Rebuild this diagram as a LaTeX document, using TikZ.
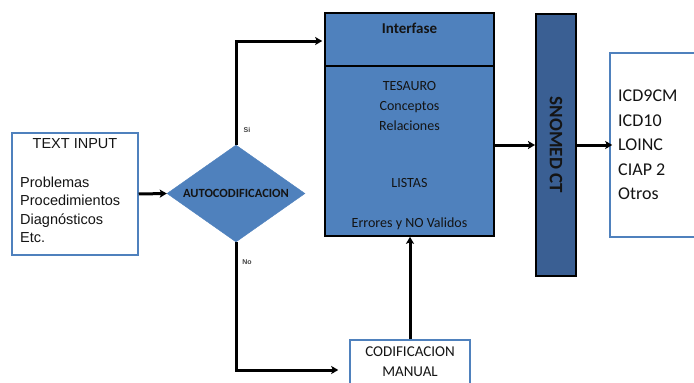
\documentclass[tikz,border=0pt]{standalone}
\usepackage{fontspec}
\setmainfont{Carlito}
\newfontfamily\arialf{Liberation Sans}
\usetikzlibrary{shapes.geometric,arrows.meta}
\definecolor{boxblue}{HTML}{4F81BD}
\definecolor{darkblue}{HTML}{3A5F93}
\definecolor{txtdark}{HTML}{141414}
\begin{document}
\begin{tikzpicture}[x=1pt,y=-1pt,
  conn/.style={line width=3pt,draw=black,-{Stealth[length=7pt,width=8pt,inset=1.5pt]}},
  plainbox/.style={draw=boxblue,line width=1.5pt,fill=white,inner sep=0pt},
  bluebox/.style={draw=black,line width=1.6pt,fill=boxblue,inner sep=0pt},
  lbl/.style={inner sep=0pt,text=txtdark},
  tiny/.style={inner sep=0pt,text=black!75,font=\arialf\fontsize{7}{8}\selectfont\bfseries}]
\useasboundingbox (0,0) rectangle (694,383);
\clip (0,0) rectangle (694,383);
% boxes
\node[plainbox,minimum width=126pt,minimum height=122pt] (inp) at (75,194) {};
\node[diamond,fill=boxblue,draw=boxblue,inner sep=0pt,minimum width=138pt,minimum height=97pt] (dia) at (236,193.5) {};
\node[bluebox,minimum width=169pt,minimum height=223pt] (big) at (409.5,124.5) {};
\node[bluebox,draw=black,line width=2pt,fill=darkblue,minimum width=40pt,minimum height=262pt] (sn) at (556,145) {};
\node[plainbox,minimum width=130pt,minimum height=184pt] (out) at (675,145) {};
\node[plainbox,minimum width=120pt,minimum height=60pt] (cod) at (410,370) {};
\coordinate (div) at (0,66);
\draw[line width=1.2pt,black] (big.west |- div) -- (big.east |- div);
% texts
\node[lbl,font=\arialf\fontsize{14.5}{16}\selectfont] (tin) at (75,144) {TEXT INPUT};
\node[lbl,anchor=north west,align=left,font=\arialf\fontsize{14.5}{18.5}\selectfont] (tlist) at (20,176.5) {Problemas\\Procedimientos\\Diagnósticos\\Etc.};
\node[lbl,font=\fontsize{12.5}{14}\selectfont\bfseries] (tauto) at (dia) {AUTOCODIFICACION};
\node[lbl,font=\fontsize{15}{17}\selectfont\bfseries] (tint) at (409.5,28) {Interfase};
\node[lbl,align=center,font=\fontsize{14}{20}\selectfont] (ttes) at (409.5,106) {TESAURO\\Conceptos\\Relaciones};
\node[lbl,font=\fontsize{14}{16}\selectfont] (tlis) at (409.5,183) {LISTAS};
\node[lbl,font=\fontsize{14}{16}\selectfont] (terr) at (409.5,224) {Errores y NO Validos};
\node[lbl,rotate=-90,font=\fontsize{19}{21}\selectfont\bfseries] (tsn) at (sn) {SNOMED CT};
\node[lbl,anchor=north west,align=left,font=\fontsize{18}{24.5}\selectfont] (tout) at (618,90) {ICD9CM\\ICD10\\LOINC\\CIAP 2\\Otros};
\node[lbl,align=center,font=\fontsize{15}{20}\selectfont] (tcod) at (410,362) {CODIFICACION\\MANUAL};
\node[tiny] (si) at (247,130) {Si};
\node[tiny] (no) at (247,262) {No};
% connectors
\coordinate (siY) at (0,41);
\draw[conn] (inp.east) -- (dia.west);
\draw[conn,shorten >=2pt] (dia.north) |- (big.west |- siY);
\draw[conn,shorten >=11pt] (dia.south) |- (cod.west);
\draw[conn] (cod.north) -- (cod.north |- big.south);
\draw[conn] (big.east |- sn.west) -- (sn.west);
\draw[conn,shorten >=-3pt] (sn.east) -- (out.west);
\end{tikzpicture}
\end{document}
